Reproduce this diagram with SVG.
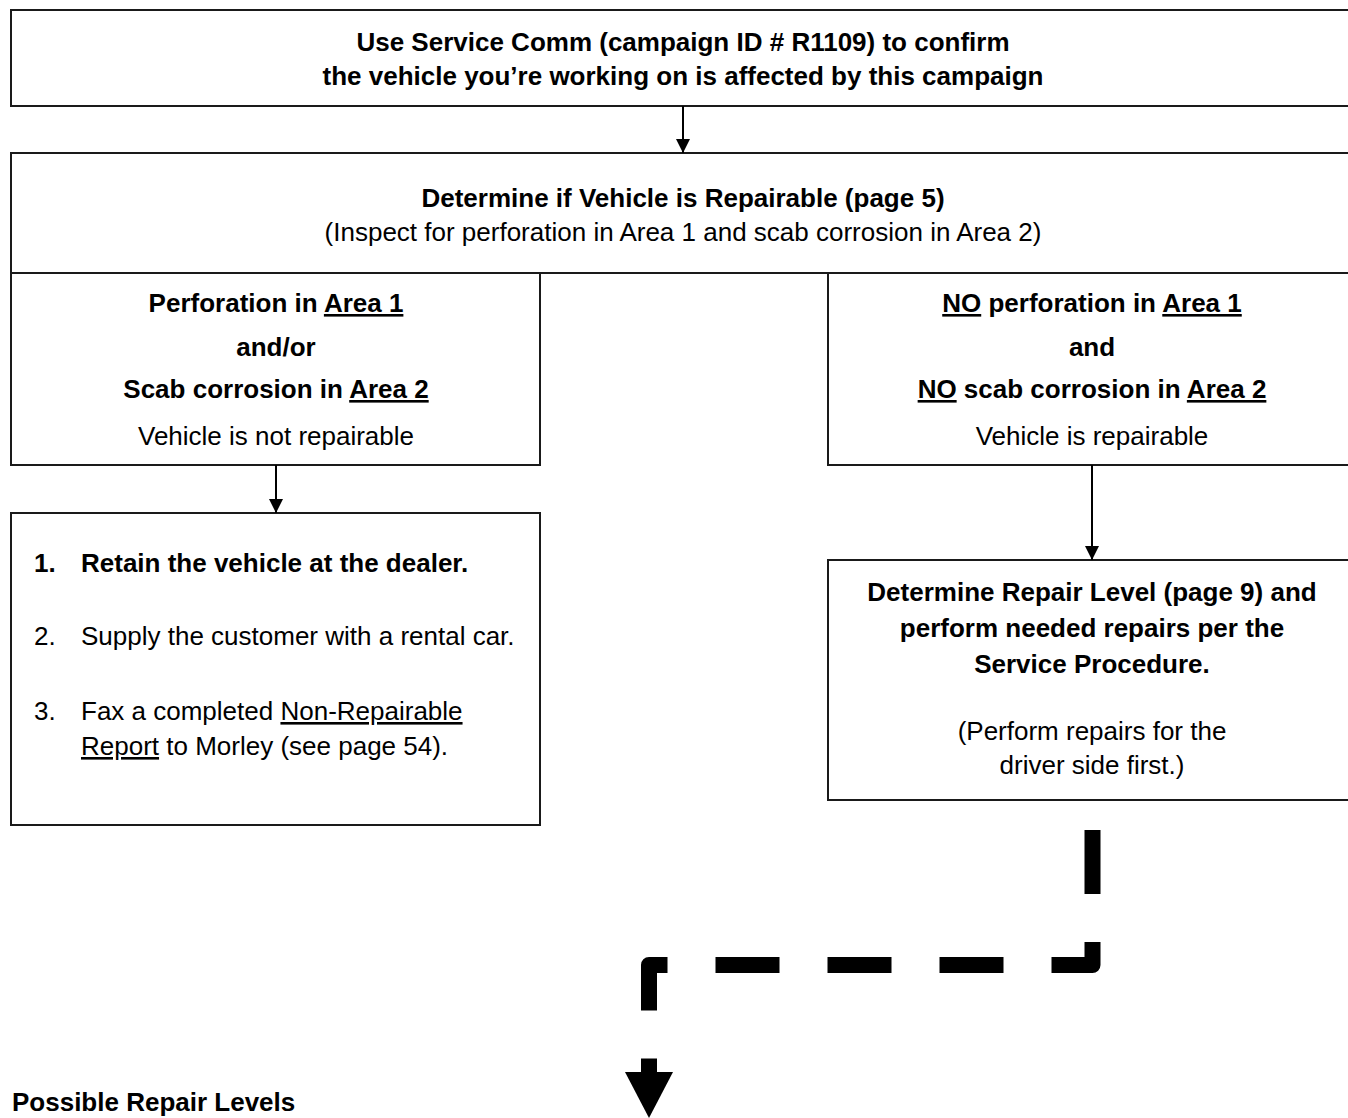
<svg xmlns="http://www.w3.org/2000/svg" width="1348" height="1118" viewBox="0 0 1348 1118">
<style>
  .box { fill: #ffffff; stroke: #1a1a1a; stroke-width: 2; }
  text { font-family: "Liberation Sans", Arial, sans-serif; font-size: 26px; fill: #000; }
  .b { font-weight: bold; }
  .c { text-anchor: middle; }
  .u { text-decoration: underline; }
  .conn { fill: none; stroke: #000; stroke-width: 2; }
  .thick { fill: none; stroke: #000; stroke-width: 16; stroke-dasharray: 64 48; stroke-linejoin: round; }
</style>
<defs>
  <marker id="arr" markerUnits="userSpaceOnUse" markerWidth="14" markerHeight="14" refX="14" refY="7" orient="auto">
    <path d="M0,0 L14,7 L0,14 Z" fill="#000"/>
  </marker>
</defs>
<rect width="1348" height="1118" fill="#ffffff"/>

<g id="n-confirm">
  <rect class="box" x="11" y="10" width="1344" height="96"/>
  <text class="b c" x="683" y="51">Use Service Comm (campaign ID # R1109) to confirm</text>
  <text class="b c" x="683" y="85">the vehicle you’re working on is affected by this campaign</text>
</g>

<g id="n-determine">
  <rect class="box" x="11" y="153" width="1344" height="120"/>
  <text class="b c" x="683" y="207">Determine if Vehicle is Repairable (page 5)</text>
  <text class="c" x="683" y="241">(Inspect for perforation in Area 1 and scab corrosion in Area 2)</text>
</g>

<g id="n-not-repairable">
  <rect class="box" x="11" y="273" width="529" height="192"/>
  <text class="b c" x="276" y="312">Perforation in <tspan class="u">Area 1</tspan></text>
  <text class="b c" x="276" y="356">and/or</text>
  <text class="b c" x="276" y="398">Scab corrosion in <tspan class="u">Area 2</tspan></text>
  <text class="c" x="276" y="445">Vehicle is not repairable</text>
</g>

<g id="n-repairable">
  <rect class="box" x="828" y="273" width="527" height="192"/>
  <text class="b c" x="1092" y="312"><tspan class="u">NO</tspan> perforation in <tspan class="u">Area 1</tspan></text>
  <text class="b c" x="1092" y="356">and</text>
  <text class="b c" x="1092" y="398"><tspan class="u">NO</tspan> scab corrosion in <tspan class="u">Area 2</tspan></text>
  <text class="c" x="1092" y="445">Vehicle is repairable</text>
</g>

<g id="n-retain">
  <rect class="box" x="11" y="513" width="529" height="312"/>
  <text class="b" x="34" y="572">1.</text>
  <text class="b" x="81" y="572">Retain the vehicle at the dealer.</text>
  <text x="34" y="645">2.</text>
  <text x="81" y="645">Supply the customer with a rental car.</text>
  <text x="34" y="720">3.</text>
  <text x="81" y="720">Fax a completed <tspan class="u">Non-Repairable</tspan></text>
  <text x="81" y="755"><tspan class="u">Report</tspan> to Morley (see page 54).</text>
</g>

<g id="n-repair-level">
  <rect class="box" x="828" y="560" width="527" height="240"/>
  <text class="b c" x="1092" y="601">Determine Repair Level (page 9) and</text>
  <text class="b c" x="1092" y="637">perform needed repairs per the</text>
  <text class="b c" x="1092" y="673">Service Procedure.</text>
  <text class="c" x="1092" y="740">(Perform repairs for the</text>
  <text class="c" x="1092" y="774">driver side first.)</text>
</g>

<g id="n-levels">
  <text class="b" x="12" y="1111">Possible Repair Levels</text>
</g>

<g id="connectors">
  <line class="conn" x1="683" y1="106" x2="683" y2="153" marker-end="url(#arr)"/>
  <line class="conn" x1="276" y1="465" x2="276" y2="513" marker-end="url(#arr)"/>
  <line class="conn" x1="1092" y1="465" x2="1092" y2="560" marker-end="url(#arr)"/>
  <path class="thick" d="M1092.5,830 V965 H649 V1072"/>
  <polygon points="625,1072 673,1072 649,1118" fill="#000"/>
</g>
</svg>
